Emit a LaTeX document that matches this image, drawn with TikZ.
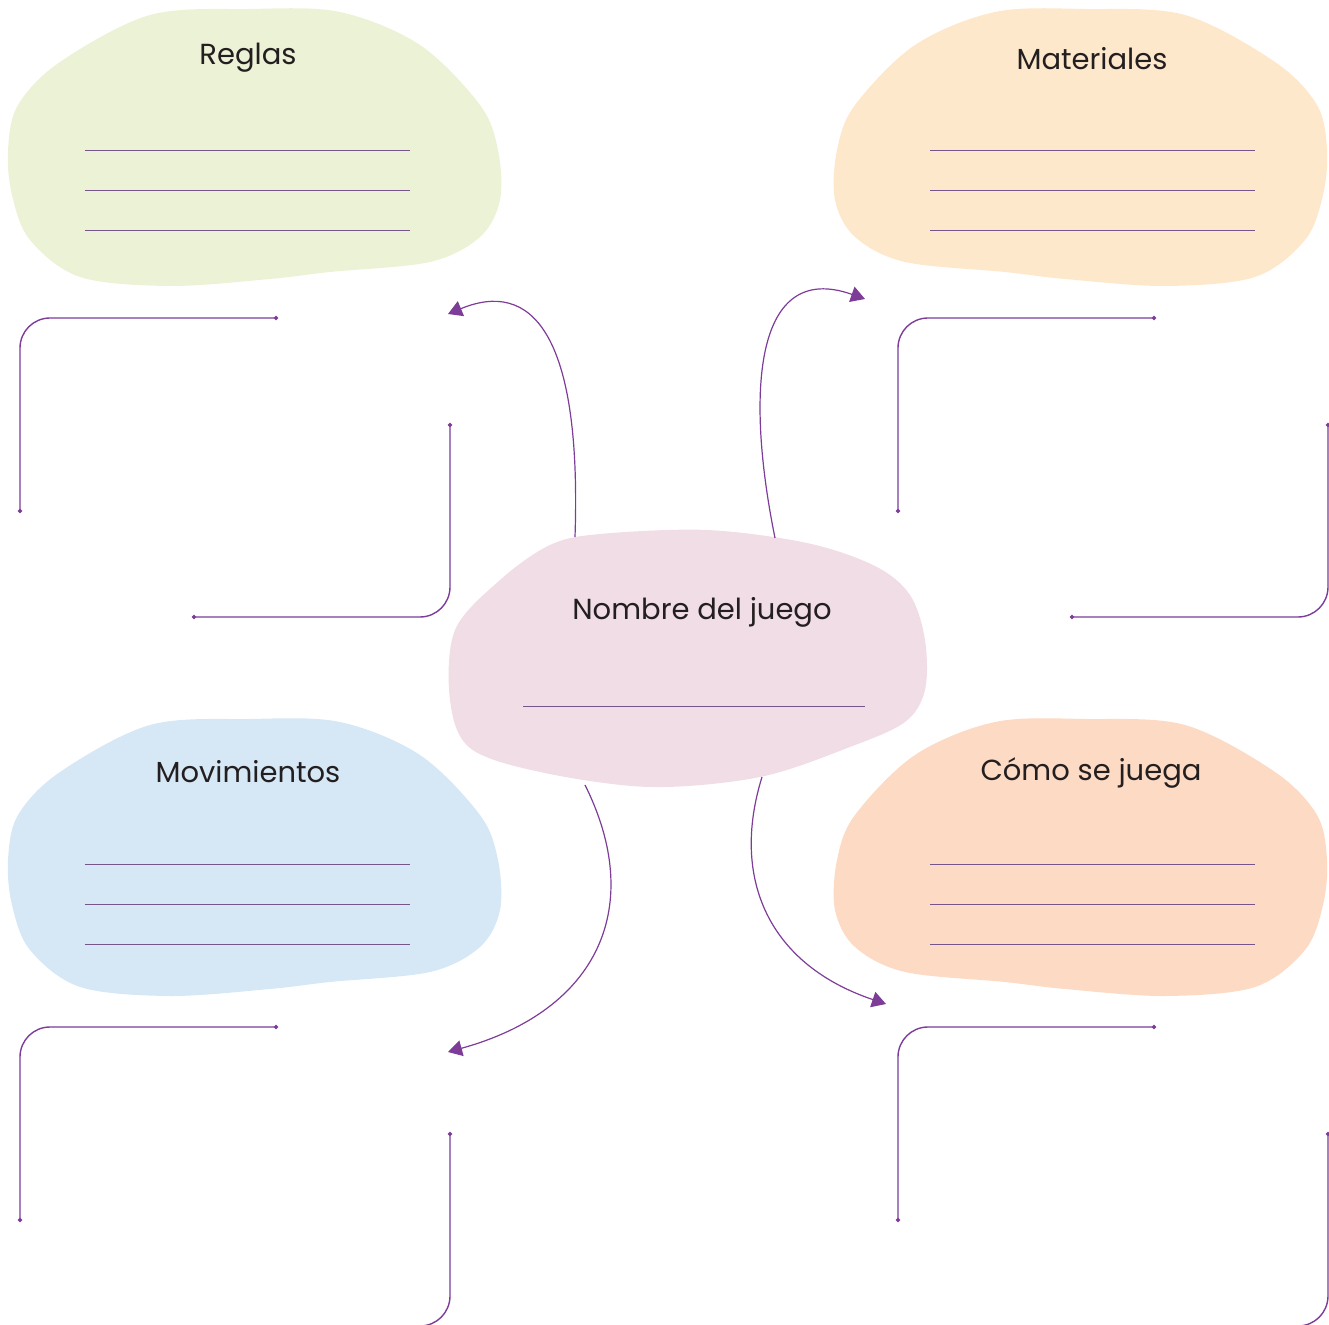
\documentclass[tikz,border=0pt]{standalone}
\usepackage{fontspec}
\setmainfont{Poppins}
\usetikzlibrary{arrows.meta}

\definecolor{regfill}{HTML}{ECF2D6}
\definecolor{matfill}{HTML}{FEE8CB}
\definecolor{movfill}{HTML}{D6E8F6}
\definecolor{comofill}{HTML}{FCDAC4}
\definecolor{nomfill}{HTML}{F1DDE6}
\definecolor{lila}{HTML}{7D3C98}
\definecolor{ruleclr}{HTML}{75558A}
\definecolor{ink}{HTML}{231F20}

\begin{document}
\begin{tikzpicture}[
  x=0.5pt, y=-0.5pt,
  ttl/.style={font=\fontsize{14.5}{17}\selectfont, text=ink, inner sep=0pt},
  rule/.style={draw=ruleclr, line width=0.5pt},
  arr/.style={-{Triangle[length=7pt, width=8pt]}, draw=lila, line width=0.6pt},
  brk/.style={draw=lila, line width=0.7pt, rounded corners=15pt},
  blob/.pic={\path[pic actions] plot[smooth cycle, tension=0.55] coordinates {
      (8,150) (18,105) (60,62) (150,15) (250,9) (340,12) (420,45) (480,105)
      (498,150) (500,200) (480,237) (430,262) (330,272) (270,279) (170,286)
      (80,277) (30,240) (12,195)};}]
\clip (0,0) rectangle (1329,1325);

% side blobs
\pic[fill=regfill] at (0,0) {blob};
\pic[fill=matfill, xscale=-1] at (1335,0) {blob};
\pic[fill=movfill] at (0,710) {blob};
\pic[fill=comofill, xscale=-1] at (1335,710) {blob};

% centre blob
\fill[nomfill] plot[smooth cycle, tension=0.55] coordinates {
  (600,534) (707,530) (807,543) (875,566) (910,595) (925,640)
  (925,690) (905,722) (850,747) (760,777) (650,787) (540,772)
  (470,748) (450,700) (455,630) (500,580) (550,545)};

% titles
\node[ttl] (reglas) at (248,58) {Reglas};
\node[ttl] (mater) at (1092,59) {Materiales};
\node[ttl] (movim) at (248,772) {Movimientos};
\node[ttl] (como) at (1091,773) {Cómo se juega};
\node[ttl] (nombre) at (702,612) {Nombre del juego};

% writing lines
\foreach \y in {151,191,231,865,905,945} {
  \draw[rule] (85,\y) -- (410,\y);
  \draw[rule] (930,\y) -- (1255,\y);
}
\draw[rule] (523,707) -- (865,707);

% connectors
\coordinate (nTL) at (575,537);
\coordinate (nTR) at (775,538);
\coordinate (nBL) at (585,785);
\coordinate (nBR) at (762,777);
\coordinate (aReg) at (448,314);
\coordinate (aMat) at (865,299);
\coordinate (aMov) at (448,1052);
\coordinate (aCom) at (886,1004);
\draw[arr] (nTL) .. controls (582,330) and (530,280) .. (aReg);
\draw[arr] (nTR) .. controls (745,390) and (755,260) .. (aMat);
\draw[arr] (nBL) .. controls (645,905) and (600,1010) .. (aMov);
\draw[arr] (nBR) .. controls (730,880) and (770,965) .. (aCom);

% brackets
\foreach \dx/\dy/\tip in {0/0/{Circle[length=2pt]}, 878/0/{Circle[length=2pt]},
                          0/709/{}, 878/709/{}} {
  \begin{scope}[shift={(\dx,\dy)}]
    \draw[brk, {Circle[length=2pt]}-{Circle[length=2pt]}]
      (278,318) -- (20,318) -- (20,513);
    \draw[brk, {Circle[length=2pt]}-\tip]
      (450,423) -- (450,617) -- (192,617);
  \end{scope}
}
\end{tikzpicture}
\end{document}
